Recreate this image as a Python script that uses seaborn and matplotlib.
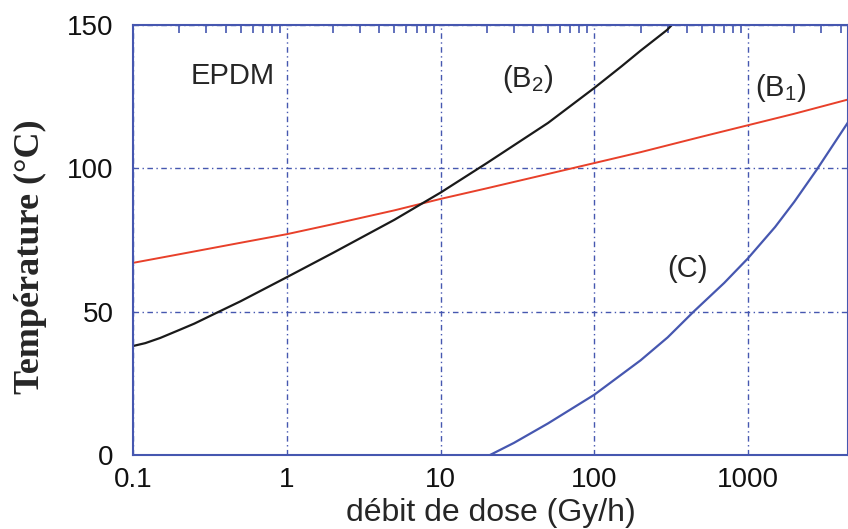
import numpy as np
import matplotlib
matplotlib.use("Agg")
import matplotlib.pyplot as plt
import matplotlib.ticker as mticker
import seaborn as sns

# curve (B1) - red
b1_x = [0.1, 0.2, 0.5, 1, 2, 5, 10, 20, 50, 100, 200, 500, 1000, 2000, 4500]
b1_y = [67, 70, 74, 77, 80.5, 85.3, 89.3, 93, 98, 101.8, 105.6, 111, 115, 119, 124]

# curve (B2) - black
b2_x = [0.1, 0.12, 0.15, 0.2, 0.25, 0.35, 0.5, 1, 2, 5, 10, 20, 50, 100, 150, 200, 297, 320]
b2_y = [38, 39, 40.8, 43.6, 45.8, 49.6, 53.6, 62, 70.5, 82, 91.5, 101.8, 115.8, 128, 135.5, 141, 148.2, 150]

# curve (C) - blue
c_x = [21, 30, 50, 100, 200, 300, 443, 700, 1000, 1500, 2000, 2800, 4470]
c_y = [0, 4.2, 11, 21, 33, 41, 50, 60, 68.6, 79.5, 88.3, 99.5, 116]

BLUE = "#4657b0"
RED = "#e8402a"

sns.set_style("white")
plt.rcParams["font.family"] = ["Liberation Sans", "DejaVu Sans"]
plt.rcParams["mathtext.default"] = "regular"

fig = plt.figure(figsize=(8.48, 5.29), dpi=100)
ax = fig.add_axes([0.157, 0.14, 0.843, 0.813])

sns.lineplot(x=b1_x, y=b1_y, ax=ax, color=RED, lw=1.4, sort=False)
sns.lineplot(x=b2_x, y=b2_y, ax=ax, color="#1a1a1a", lw=1.6, sort=False)
sns.lineplot(x=c_x, y=c_y, ax=ax, color=BLUE, lw=1.6, sort=False)

ax.set_xscale("log")
ax.set_xlim(0.1, 4470)
ax.set_ylim(0, 150)
ax.xaxis.set_major_locator(mticker.FixedLocator([0.1, 1, 10, 100, 1000]))
ax.xaxis.set_major_formatter(mticker.FixedFormatter(["0.1", "1", "10", "100", "1000"]))
ax.xaxis.set_minor_locator(mticker.LogLocator(base=10, subs=np.arange(2, 10)))
ax.xaxis.set_minor_formatter(mticker.NullFormatter())
ax.set_yticks([0, 50, 100, 150])
ax.yaxis.set_minor_locator(mticker.MultipleLocator(5))

ax.grid(True, which="major", color=BLUE, lw=1.0, linestyle=(0, (4, 2.5, 1, 2.5)))
for s in ax.spines.values():
    s.set_color(BLUE)
    s.set_linewidth(1.5)
ax.tick_params(which="both", direction="in", color=BLUE, top=True, right=False,
               labelsize=20, labelcolor="#111111")
ax.tick_params(which="major", length=0)
ax.tick_params(axis="y", which="major", pad=14)
ax.tick_params(axis="x", which="major", pad=9)
ax.tick_params(which="minor", length=6, width=1.2)

ax.set_xlabel("débit de dose (Gy/h)", fontsize=23, labelpad=3)
ax.set_ylabel("Température (°C)", fontsize=26, fontweight="bold",
              family=["Liberation Serif", "DejaVu Serif"])
ax.yaxis.set_label_coords(-0.12, 0.46)

ax.text(0.235, 132, "EPDM", fontsize=21, va="center", ha="left")
ax.text(25, 131, "(B$_2$)", fontsize=21, va="center", ha="left")
ax.text(1110, 128, "(B$_1$)", fontsize=21, va="center", ha="left")
ax.text(300, 65, "(C)", fontsize=21, va="center", ha="left")

fig.savefig("out.png", dpi=100)
